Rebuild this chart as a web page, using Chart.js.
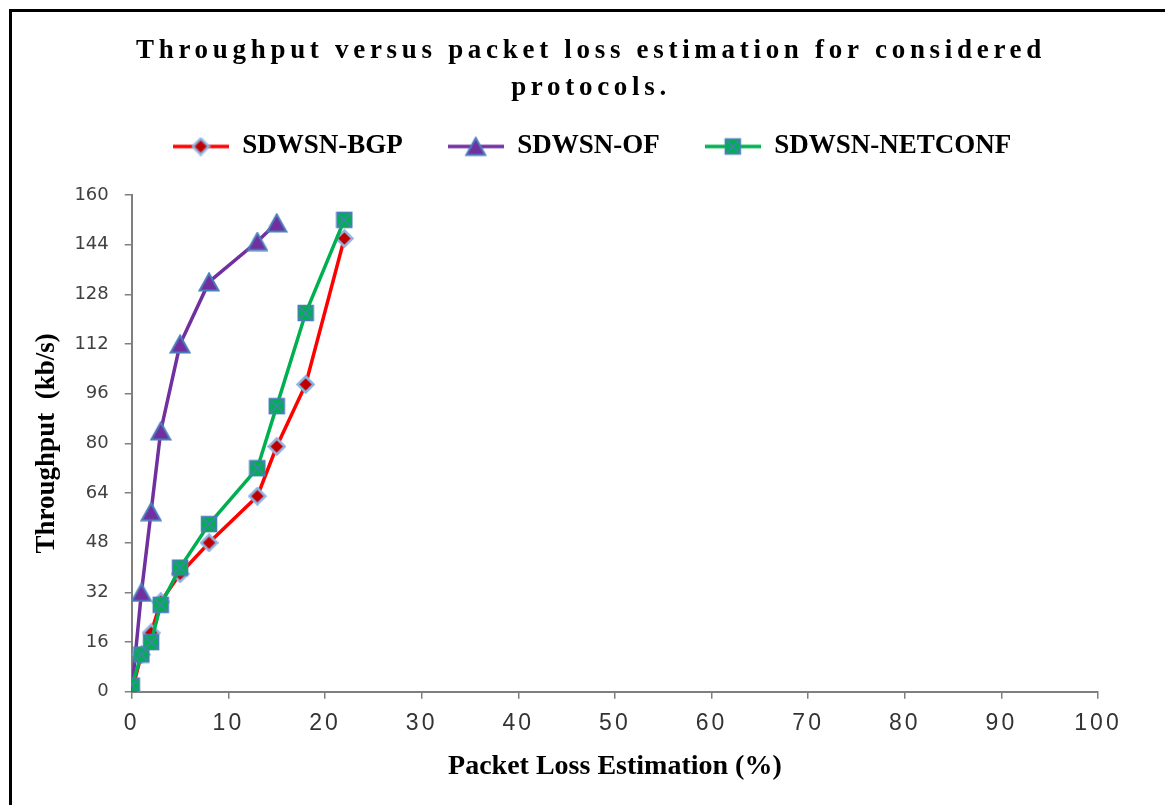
<!DOCTYPE html>
<html>
<head>
<meta charset="utf-8">
<title>Throughput versus packet loss estimation</title>
<script src="https://cdn.jsdelivr.net/npm/chart.js@4.4.1/dist/chart.umd.min.js"></script>
<style>
    html, body { margin: 0; padding: 0; background: #fff; overflow: hidden; }
    #wrap { position: relative; width: 1165px; height: 805px; }
    #frame {
        position: absolute; left: 9px; top: 9px; width: 1300px; height: 1000px;
        border-top: 3px solid #000; border-left: 3px solid #000; pointer-events: none;
    }
    canvas { position: absolute; left: 0; top: 0; }
</style>
</head>
<body>
<div id="wrap">
    <canvas id="chart" width="1165" height="805"></canvas>
    <div id="frame"></div>
</div>
<script>
// data
const seriesNames = ['SDWSN-BGP', 'SDWSN-OF', 'SDWSN-NETCONF'];

const lossBGP = [0, 1, 2, 3, 5, 8, 13, 15, 18, 22];
const thrBGP = [0, 12, 19, 29, 38, 48, 63, 79, 99, 146];

const lossOF = [0, 1, 2, 3, 5, 8, 13, 15];
const thrOF = [0, 32, 58, 84, 112, 132, 145, 151];

const lossNET = [0, 1, 2, 3, 5, 8, 13, 15, 18, 22];
const thrNET = [2, 12, 16, 28, 40, 54, 72, 92, 122, 152];

const xTicks = [0, 10, 20, 30, 40, 50, 60, 70, 80, 90, 100];
const yTicks = [0, 16, 32, 48, 64, 80, 96, 112, 128, 144, 160];

// marker pictures (excel style)
function makeMarker(shape) {
    const c = document.createElement('canvas');
    const ctx = c.getContext('2d');
    if (shape === 'diamond') {
        c.width = 19; c.height = 19;
        ctx.beginPath();
        ctx.moveTo(9.5, 1.5); ctx.lineTo(17.5, 9.5); ctx.lineTo(9.5, 17.5); ctx.lineTo(1.5, 9.5);
        ctx.closePath();
        ctx.fillStyle = '#c00000'; ctx.fill();
        ctx.strokeStyle = '#8db4e2'; ctx.lineWidth = 2.5; ctx.stroke();
    } else if (shape === 'triangle') {
        c.width = 22; c.height = 20;
        ctx.beginPath();
        ctx.moveTo(11, 1.5); ctx.lineTo(20.5, 18.5); ctx.lineTo(1.5, 18.5);
        ctx.closePath();
        ctx.fillStyle = '#7030a0'; ctx.fill();
        ctx.strokeStyle = '#4a7ebb'; ctx.lineWidth = 2; ctx.stroke();
    } else {
        c.width = 18; c.height = 18;
        ctx.fillStyle = '#00b050'; ctx.fillRect(1.5, 1.5, 15, 15);
        ctx.strokeStyle = '#4a7ebb'; ctx.lineWidth = 1.5;
        ctx.beginPath();
        ctx.moveTo(2, 2); ctx.lineTo(16, 16); ctx.moveTo(16, 2); ctx.lineTo(2, 16);
        ctx.stroke();
        ctx.strokeRect(1.5, 1.5, 15, 15);
    }
    return c;
}

function makeLegendIcon(color, marker) {
    const c = document.createElement('canvas');
    c.width = 56; c.height = 22;
    const ctx = c.getContext('2d');
    ctx.strokeStyle = color; ctx.lineWidth = 3.5;
    ctx.beginPath(); ctx.moveTo(0, 11); ctx.lineTo(56, 11); ctx.stroke();
    ctx.drawImage(marker, 28 - marker.width / 2, 11 - marker.height / 2);
    return c;
}

const lineColors = ['#ff0000', '#7030a0', '#00b050'];
const markers = [makeMarker('diamond'), makeMarker('triangle'), makeMarker('square')];
const legendIcons = lineColors.map((col, i) => makeLegendIcon(col, markers[i]));

const toPoints = (xs, ys) => xs.map((x, i) => ({ x: x, y: ys[i] }));

// letter spacing / small nudges for some text blocks
function tweak(obj, fn, px, dx, dy) {
    if (!obj || obj['_tw_' + fn]) return;
    const orig = obj[fn];
    obj[fn] = function (...args) {
        const ctx = this.ctx;
        ctx.save();
        ctx.letterSpacing = px;
        ctx.translate(dx, dy);
        orig.apply(this, args);
        ctx.restore();
    };
    obj['_tw_' + fn] = true;
}

const tweakPlugin = {
    id: 'tweak',
    beforeDraw(chart) {
        tweak(chart.titleBlock, 'draw', '4.7px', 29, 0);
        tweak(chart.legend, 'draw', '0px', 30, -25);
        tweak(chart.scales.x, 'drawLabels', '3px', 0, 0);
    }
};

const serif = '"Liberation Serif", "Times New Roman", serif';

const chart = new Chart(document.getElementById('chart'), {
    type: 'line',
    data: {
        datasets: [
            {
                label: seriesNames[0],
                data: toPoints(lossBGP, thrBGP),
                borderColor: lineColors[0],
                borderWidth: 3.5,
                pointStyle: markers[0],
                order: 1
            },
            {
                label: seriesNames[1],
                data: toPoints(lossOF, thrOF),
                borderColor: lineColors[1],
                borderWidth: 3.5,
                pointStyle: markers[1],
                order: 2
            },
            {
                label: seriesNames[2],
                data: toPoints(lossNET, thrNET),
                borderColor: lineColors[2],
                borderWidth: 3.5,
                pointStyle: markers[2],
                order: 0
            }
        ]
    },
    options: {
        responsive: false,
        devicePixelRatio: 1,
        animation: false,
        layout: { padding: { left: 26, right: 67, top: 0, bottom: 21 } },
        plugins: {
            title: {
                display: true,
                text: ['Throughput versus packet loss estimation for considered', 'protocols.'],
                color: '#000',
                font: { family: serif, size: 27, weight: 'bold', lineHeight: 1.37 },
                padding: { top: 33, bottom: 6 }
            },
            legend: {
                position: 'top',
                labels: {
                    usePointStyle: true,
                    pointStyleWidth: 56,
                    padding: 45,
                    color: '#000',
                    font: { family: serif, size: 27, weight: 'bold' },
                    generateLabels: (c) => c.data.datasets.map((ds, i) => ({
                        text: ds.label,
                        datasetIndex: i,
                        pointStyle: legendIcons[i],
                        fillStyle: lineColors[i],
                        strokeStyle: lineColors[i],
                        lineWidth: 0,
                        hidden: false
                    }))
                }
            },
            tooltip: { enabled: false }
        },
        scales: {
            x: {
                type: 'linear',
                min: xTicks[0],
                max: xTicks[xTicks.length - 1],
                afterBuildTicks: (s) => { s.ticks = xTicks.map(v => ({ value: v })); },
                border: { color: '#7f7f7f', width: 2 },
                grid: { drawOnChartArea: false, color: '#7f7f7f', tickLength: 7, lineWidth: 1.5 },
                ticks: { color: '#333', font: { family: '"Liberation Sans", Arial, sans-serif', size: 23 }, padding: 11, maxRotation: 0 },
                title: {
                    display: true,
                    text: 'Packet Loss Estimation (%)',
                    color: '#000',
                    font: { family: serif, size: 28, weight: 'bold' },
                    padding: { top: 2, bottom: 0 }
                }
            },
            y: {
                type: 'linear',
                min: yTicks[0],
                max: yTicks[yTicks.length - 1],
                afterBuildTicks: (s) => { s.ticks = yTicks.map(v => ({ value: v })); },
                border: { color: '#7f7f7f', width: 2 },
                grid: { drawOnChartArea: false, color: '#7f7f7f', tickLength: 7, lineWidth: 1.5 },
                ticks: { color: '#404040', font: { family: '"DejaVu Sans", sans-serif', size: 18 }, padding: 16 },
                title: {
                    display: true,
                    text: 'Throughput  (kb/s)',
                    color: '#000',
                    font: { family: serif, size: 27, weight: 'bold' },
                    padding: { top: 5, bottom: -5 }
                }
            }
        }
    },
    plugins: [tweakPlugin]
});
</script>
</body>
</html>
